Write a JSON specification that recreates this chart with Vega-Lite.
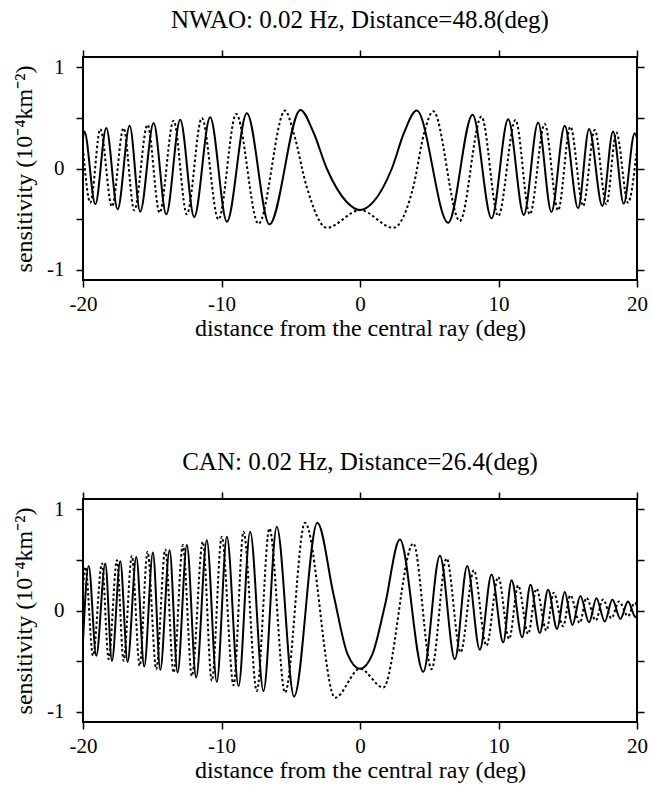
{
  "$schema": "https://vega.github.io/schema/vega-lite/v6.json",
  "padding": {"left": 11, "top": 7, "right": 5, "bottom": 5},
  "background": "white",
  "spacing": 108,
  "config": {
    "view": {"stroke": "black", "strokeWidth": 2},
    "font": "Liberation Serif",
    "axis": {
      "domain": false, "grid": false, "tickColor": "black", "tickWidth": 1.5, "tickSize": 7,
      "labelFont": "Liberation Serif", "labelFontSize": 21, "labelColor": "black",
      "titleFont": "Liberation Serif", "titleFontSize": 24, "titleFontWeight": "normal", "titleColor": "black"
    },
    "title": {"font": "Liberation Serif", "fontSize": 25, "fontWeight": "normal", "color": "black", "anchor": "middle", "frame": "group", "offset": 16}
  },
  "datasets": {
    "curves": [
      {"panel": "NWAO", "series": "solid", "d": -20, "v": 0.30},
      {"panel": "NWAO", "series": "solid", "d": -19.9, "v": 0.366},
      {"panel": "NWAO", "series": "solid", "d": -19.11, "v": -0.353},
      {"panel": "NWAO", "series": "solid", "d": -18.32, "v": 0.399},
      {"panel": "NWAO", "series": "solid", "d": -17.5, "v": -0.403},
      {"panel": "NWAO", "series": "solid", "d": -16.63, "v": 0.422},
      {"panel": "NWAO", "series": "solid", "d": -15.87, "v": -0.426},
      {"panel": "NWAO", "series": "solid", "d": -14.9, "v": 0.449},
      {"panel": "NWAO", "series": "solid", "d": -13.99, "v": -0.452},
      {"panel": "NWAO", "series": "solid", "d": -12.98, "v": 0.482},
      {"panel": "NWAO", "series": "solid", "d": -11.97, "v": -0.479},
      {"panel": "NWAO", "series": "solid", "d": -10.82, "v": 0.505},
      {"panel": "NWAO", "series": "solid", "d": -9.61, "v": -0.525},
      {"panel": "NWAO", "series": "solid", "d": -8.17, "v": 0.545},
      {"panel": "NWAO", "series": "solid", "d": -6.54, "v": -0.551},
      {"panel": "NWAO", "series": "solid", "d": -4.3, "v": 0.578},
      {"panel": "NWAO", "series": "solid", "d": -3.37, "v": 0.36},
      {"panel": "NWAO", "series": "solid", "d": -2.4, "v": 0.0},
      {"panel": "NWAO", "series": "solid", "d": -0.96, "v": -0.33},
      {"panel": "NWAO", "series": "solid", "d": 0, "v": -0.41},
      {"panel": "NWAO", "series": "solid", "d": 0.96, "v": -0.33},
      {"panel": "NWAO", "series": "solid", "d": 2.3, "v": 0.0},
      {"panel": "NWAO", "series": "solid", "d": 3.2, "v": 0.36},
      {"panel": "NWAO", "series": "solid", "d": 4.09, "v": 0.571},
      {"panel": "NWAO", "series": "solid", "d": 6.37, "v": -0.535},
      {"panel": "NWAO", "series": "solid", "d": 8.13, "v": 0.531},
      {"panel": "NWAO", "series": "solid", "d": 9.5, "v": -0.492},
      {"panel": "NWAO", "series": "solid", "d": 10.7, "v": 0.485},
      {"panel": "NWAO", "series": "solid", "d": 11.83, "v": -0.459},
      {"panel": "NWAO", "series": "solid", "d": 12.86, "v": 0.455},
      {"panel": "NWAO", "series": "solid", "d": 13.82, "v": -0.429},
      {"panel": "NWAO", "series": "solid", "d": 14.78, "v": 0.422},
      {"panel": "NWAO", "series": "solid", "d": 15.75, "v": -0.393},
      {"panel": "NWAO", "series": "solid", "d": 16.54, "v": 0.389},
      {"panel": "NWAO", "series": "solid", "d": 17.5, "v": -0.37},
      {"panel": "NWAO", "series": "solid", "d": 18.27, "v": 0.366},
      {"panel": "NWAO", "series": "solid", "d": 19.04, "v": -0.347},
      {"panel": "NWAO", "series": "solid", "d": 19.83, "v": 0.347},
      {"panel": "NWAO", "series": "solid", "d": 20, "v": 0.3},

      {"panel": "NWAO", "series": "dotted", "d": -20, "v": 0.2},
      {"panel": "NWAO", "series": "dotted", "d": -19.47, "v": -0.337},
      {"panel": "NWAO", "series": "dotted", "d": -18.75, "v": 0.389},
      {"panel": "NWAO", "series": "dotted", "d": -17.91, "v": -0.376},
      {"panel": "NWAO", "series": "dotted", "d": -17.07, "v": 0.399},
      {"panel": "NWAO", "series": "dotted", "d": -16.3, "v": -0.413},
      {"panel": "NWAO", "series": "dotted", "d": -15.34, "v": 0.432},
      {"panel": "NWAO", "series": "dotted", "d": -14.47, "v": -0.436},
      {"panel": "NWAO", "series": "dotted", "d": -13.46, "v": 0.472},
      {"panel": "NWAO", "series": "dotted", "d": -12.5, "v": -0.452},
      {"panel": "NWAO", "series": "dotted", "d": -11.42, "v": 0.498},
      {"panel": "NWAO", "series": "dotted", "d": -10.22, "v": -0.502},
      {"panel": "NWAO", "series": "dotted", "d": -8.94, "v": 0.538},
      {"panel": "NWAO", "series": "dotted", "d": -7.33, "v": -0.545},
      {"panel": "NWAO", "series": "dotted", "d": -5.41, "v": 0.571},
      {"panel": "NWAO", "series": "dotted", "d": -4.81, "v": 0.36},
      {"panel": "NWAO", "series": "dotted", "d": -3.85, "v": -0.18},
      {"panel": "NWAO", "series": "dotted", "d": -2.4, "v": -0.585},
      {"panel": "NWAO", "series": "dotted", "d": 0, "v": -0.41},
      {"panel": "NWAO", "series": "dotted", "d": 2.4, "v": -0.585},
      {"panel": "NWAO", "series": "dotted", "d": 3.85, "v": -0.18},
      {"panel": "NWAO", "series": "dotted", "d": 4.65, "v": 0.36},
      {"panel": "NWAO", "series": "dotted", "d": 5.29, "v": 0.564},
      {"panel": "NWAO", "series": "dotted", "d": 7.21, "v": -0.518},
      {"panel": "NWAO", "series": "dotted", "d": 8.77, "v": 0.512},
      {"panel": "NWAO", "series": "dotted", "d": 9.98, "v": -0.469},
      {"panel": "NWAO", "series": "dotted", "d": 11.23, "v": 0.479},
      {"panel": "NWAO", "series": "dotted", "d": 12.26, "v": -0.452},
      {"panel": "NWAO", "series": "dotted", "d": 13.34, "v": 0.439},
      {"panel": "NWAO", "series": "dotted", "d": 14.3, "v": -0.413},
      {"panel": "NWAO", "series": "dotted", "d": 15.19, "v": 0.413},
      {"panel": "NWAO", "series": "dotted", "d": 16.11, "v": -0.37},
      {"panel": "NWAO", "series": "dotted", "d": 16.95, "v": 0.38},
      {"panel": "NWAO", "series": "dotted", "d": 17.79, "v": -0.353},
      {"panel": "NWAO", "series": "dotted", "d": 18.51, "v": 0.356},
      {"panel": "NWAO", "series": "dotted", "d": 19.35, "v": -0.337},
      {"panel": "NWAO", "series": "dotted", "d": 20, "v": 0.2},

      {"panel": "CAN", "series": "solid", "d": -20, "v": -0.3},
      {"panel": "CAN", "series": "solid", "d": -19.59, "v": 0.44},
      {"panel": "CAN", "series": "solid", "d": -19.04, "v": -0.446},
      {"panel": "CAN", "series": "solid", "d": -18.39, "v": 0.463},
      {"panel": "CAN", "series": "solid", "d": -17.91, "v": -0.496},
      {"panel": "CAN", "series": "solid", "d": -17.31, "v": 0.486},
      {"panel": "CAN", "series": "solid", "d": -16.78, "v": -0.506},
      {"panel": "CAN", "series": "solid", "d": -16.15, "v": 0.529},
      {"panel": "CAN", "series": "solid", "d": -15.58, "v": -0.552},
      {"panel": "CAN", "series": "solid", "d": -14.95, "v": 0.572},
      {"panel": "CAN", "series": "solid", "d": -14.42, "v": -0.585},
      {"panel": "CAN", "series": "solid", "d": -13.75, "v": 0.595},
      {"panel": "CAN", "series": "solid", "d": -13.17, "v": -0.612},
      {"panel": "CAN", "series": "solid", "d": -12.5, "v": 0.645},
      {"panel": "CAN", "series": "solid", "d": -11.83, "v": -0.661},
      {"panel": "CAN", "series": "solid", "d": -11.06, "v": 0.694},
      {"panel": "CAN", "series": "solid", "d": -10.34, "v": -0.704},
      {"panel": "CAN", "series": "solid", "d": -9.61, "v": 0.727},
      {"panel": "CAN", "series": "solid", "d": -8.77, "v": -0.744},
      {"panel": "CAN", "series": "solid", "d": -7.93, "v": 0.777},
      {"panel": "CAN", "series": "solid", "d": -6.97, "v": -0.794},
      {"panel": "CAN", "series": "solid", "d": -6.01, "v": 0.827},
      {"panel": "CAN", "series": "solid", "d": -4.76, "v": -0.85},
      {"panel": "CAN", "series": "solid", "d": -3.08, "v": 0.866},
      {"panel": "CAN", "series": "solid", "d": -1.9, "v": 0.15},
      {"panel": "CAN", "series": "solid", "d": -0.9, "v": -0.43},
      {"panel": "CAN", "series": "solid", "d": 0, "v": -0.575},
      {"panel": "CAN", "series": "solid", "d": 0.9, "v": -0.43},
      {"panel": "CAN", "series": "solid", "d": 1.8, "v": 0.05},
      {"panel": "CAN", "series": "solid", "d": 2.88, "v": 0.7},
      {"panel": "CAN", "series": "solid", "d": 4.57, "v": -0.605},
      {"panel": "CAN", "series": "solid", "d": 5.77, "v": 0.539},
      {"panel": "CAN", "series": "solid", "d": 6.85, "v": -0.48},
      {"panel": "CAN", "series": "solid", "d": 7.74, "v": 0.44},
      {"panel": "CAN", "series": "solid", "d": 8.65, "v": -0.387},
      {"panel": "CAN", "series": "solid", "d": 9.5, "v": 0.354},
      {"panel": "CAN", "series": "solid", "d": 10.34, "v": -0.314},
      {"panel": "CAN", "series": "solid", "d": 10.94, "v": 0.298},
      {"panel": "CAN", "series": "solid", "d": 11.71, "v": -0.265},
      {"panel": "CAN", "series": "solid", "d": 12.31, "v": 0.255},
      {"panel": "CAN", "series": "solid", "d": 12.98, "v": -0.222},
      {"panel": "CAN", "series": "solid", "d": 13.58, "v": 0.205},
      {"panel": "CAN", "series": "solid", "d": 14.23, "v": -0.182},
      {"panel": "CAN", "series": "solid", "d": 14.78, "v": 0.182},
      {"panel": "CAN", "series": "solid", "d": 15.34, "v": -0.142},
      {"panel": "CAN", "series": "solid", "d": 15.91, "v": 0.142},
      {"panel": "CAN", "series": "solid", "d": 16.54, "v": -0.116},
      {"panel": "CAN", "series": "solid", "d": 17.07, "v": 0.122},
      {"panel": "CAN", "series": "solid", "d": 17.67, "v": -0.109},
      {"panel": "CAN", "series": "solid", "d": 18.22, "v": 0.109},
      {"panel": "CAN", "series": "solid", "d": 18.8, "v": -0.083},
      {"panel": "CAN", "series": "solid", "d": 19.35, "v": 0.089},
      {"panel": "CAN", "series": "solid", "d": 19.9, "v": -0.066},
      {"panel": "CAN", "series": "solid", "d": 20, "v": -0.05},

      {"panel": "CAN", "series": "dotted", "d": -20, "v": 0.2},
      {"panel": "CAN", "series": "dotted", "d": -19.83, "v": 0.43},
      {"panel": "CAN", "series": "dotted", "d": -19.28, "v": -0.446},
      {"panel": "CAN", "series": "dotted", "d": -18.63, "v": 0.463},
      {"panel": "CAN", "series": "dotted", "d": -18.15, "v": -0.48},
      {"panel": "CAN", "series": "dotted", "d": -17.55, "v": 0.496},
      {"panel": "CAN", "series": "dotted", "d": -17.07, "v": -0.496},
      {"panel": "CAN", "series": "dotted", "d": -16.47, "v": 0.539},
      {"panel": "CAN", "series": "dotted", "d": -15.91, "v": -0.546},
      {"panel": "CAN", "series": "dotted", "d": -15.34, "v": 0.579},
      {"panel": "CAN", "series": "dotted", "d": -14.71, "v": -0.579},
      {"panel": "CAN", "series": "dotted", "d": -14.06, "v": 0.602},
      {"panel": "CAN", "series": "dotted", "d": -13.46, "v": -0.612},
      {"panel": "CAN", "series": "dotted", "d": -12.79, "v": 0.645},
      {"panel": "CAN", "series": "dotted", "d": -12.14, "v": -0.645},
      {"panel": "CAN", "series": "dotted", "d": -11.35, "v": 0.678},
      {"panel": "CAN", "series": "dotted", "d": -10.7, "v": -0.694},
      {"panel": "CAN", "series": "dotted", "d": -9.98, "v": 0.727},
      {"panel": "CAN", "series": "dotted", "d": -9.13, "v": -0.737},
      {"panel": "CAN", "series": "dotted", "d": -8.41, "v": 0.777},
      {"panel": "CAN", "series": "dotted", "d": -7.45, "v": -0.794},
      {"panel": "CAN", "series": "dotted", "d": -6.54, "v": 0.81},
      {"panel": "CAN", "series": "dotted", "d": -5.41, "v": -0.81},
      {"panel": "CAN", "series": "dotted", "d": -3.97, "v": 0.866},
      {"panel": "CAN", "series": "dotted", "d": -1.8, "v": -0.86},
      {"panel": "CAN", "series": "dotted", "d": 0, "v": -0.575},
      {"panel": "CAN", "series": "dotted", "d": 1.68, "v": -0.76},
      {"panel": "CAN", "series": "dotted", "d": 3.85, "v": 0.661},
      {"panel": "CAN", "series": "dotted", "d": 5.17, "v": -0.579},
      {"panel": "CAN", "series": "dotted", "d": 6.25, "v": 0.513},
      {"panel": "CAN", "series": "dotted", "d": 7.26, "v": -0.413},
      {"panel": "CAN", "series": "dotted", "d": 8.22, "v": 0.397},
      {"panel": "CAN", "series": "dotted", "d": 9.13, "v": -0.347},
      {"panel": "CAN", "series": "dotted", "d": 9.98, "v": 0.331},
      {"panel": "CAN", "series": "dotted", "d": 10.77, "v": -0.281},
      {"panel": "CAN", "series": "dotted", "d": 11.42, "v": 0.248},
      {"panel": "CAN", "series": "dotted", "d": 12.14, "v": -0.231},
      {"panel": "CAN", "series": "dotted", "d": 12.74, "v": 0.215},
      {"panel": "CAN", "series": "dotted", "d": 13.46, "v": -0.198},
      {"panel": "CAN", "series": "dotted", "d": 13.99, "v": 0.175},
      {"panel": "CAN", "series": "dotted", "d": 14.66, "v": -0.155},
      {"panel": "CAN", "series": "dotted", "d": 15.19, "v": 0.149},
      {"panel": "CAN", "series": "dotted", "d": 15.87, "v": -0.122},
      {"panel": "CAN", "series": "dotted", "d": 16.35, "v": 0.126},
      {"panel": "CAN", "series": "dotted", "d": 17.02, "v": -0.099},
      {"panel": "CAN", "series": "dotted", "d": 17.55, "v": 0.109},
      {"panel": "CAN", "series": "dotted", "d": 18.15, "v": -0.076},
      {"panel": "CAN", "series": "dotted", "d": 18.7, "v": 0.089},
      {"panel": "CAN", "series": "dotted", "d": 19.35, "v": -0.056},
      {"panel": "CAN", "series": "dotted", "d": 19.83, "v": 0.076},
      {"panel": "CAN", "series": "dotted", "d": 20, "v": 0.05}
    ]
  },
  "vconcat": [
    {
      "title": {"text": "NWAO: 0.02 Hz, Distance=48.8(deg)"},
      "width": 554, "height": 223,
      "data": {"name": "curves"},
      "transform": [{"filter": "datum.panel == 'NWAO'"}],
      "layer": [
        {
          "transform": [{"filter": "datum.series == 'solid'"}],
          "mark": {"type": "line", "color": "black", "strokeWidth": 2, "interpolate": "monotone", "clip": true},
          "encoding": {
            "x": {"field": "d", "type": "quantitative", "scale": {"domain": [-20, 20], "nice": false, "zero": false},
              "axis": {"orient": "bottom", "values": [-20, -10, 0, 10, 20], "labelExpr": "'' + datum.value", "labelFlush": false, "labelPadding": 6, "labelFont": "Liberation Serif", "title": "distance from the central ray (deg)", "titleFont": "Liberation Serif", "titlePadding": 2}},
            "y": {"field": "v", "type": "quantitative", "scale": {"domain": [-1.1, 1.1], "nice": false, "zero": false},
              "axis": {"orient": "left", "values": [-1, -0.5, 0, 0.5, 1], "labelExpr": "datum.value == 1 ? '1' : datum.value == 0 ? '0' : datum.value == -1 ? '-1' : ''", "labelPadding": 12, "labelFont": "Liberation Serif", "title": "sensitivity (10⁻⁴km⁻²)", "titleFont": "Liberation Serif", "titlePadding": 10}}
          }
        },
        {
          "transform": [{"filter": "datum.series == 'dotted'"}],
          "mark": {"type": "line", "color": "black", "strokeWidth": 2, "strokeDash": [2.5, 2.5], "interpolate": "monotone", "clip": true},
          "encoding": {
            "x": {"field": "d", "type": "quantitative", "axis": {"orient": "top", "values": [-20, -10, 0, 10, 20], "labels": false, "title": null}},
            "y": {"field": "v", "type": "quantitative", "axis": {"orient": "right", "values": [-1, -0.5, 0, 0.5, 1], "labels": false, "title": null}}
          }
        }
      ],
      "resolve": {"axis": {"x": "independent", "y": "independent"}}
    },
    {
      "title": {"text": "CAN: 0.02 Hz, Distance=26.4(deg)"},
      "width": 554, "height": 223,
      "data": {"name": "curves"},
      "transform": [{"filter": "datum.panel == 'CAN'"}],
      "layer": [
        {
          "transform": [{"filter": "datum.series == 'solid'"}],
          "mark": {"type": "line", "color": "black", "strokeWidth": 2, "interpolate": "monotone", "clip": true},
          "encoding": {
            "x": {"field": "d", "type": "quantitative", "scale": {"domain": [-20, 20], "nice": false, "zero": false},
              "axis": {"orient": "bottom", "values": [-20, -10, 0, 10, 20], "labelExpr": "'' + datum.value", "labelFlush": false, "labelPadding": 6, "labelFont": "Liberation Serif", "title": "distance from the central ray (deg)", "titleFont": "Liberation Serif", "titlePadding": 2}},
            "y": {"field": "v", "type": "quantitative", "scale": {"domain": [-1.1, 1.1], "nice": false, "zero": false},
              "axis": {"orient": "left", "values": [-1, -0.5, 0, 0.5, 1], "labelExpr": "datum.value == 1 ? '1' : datum.value == 0 ? '0' : datum.value == -1 ? '-1' : ''", "labelPadding": 12, "labelFont": "Liberation Serif", "title": "sensitivity (10⁻⁴km⁻²)", "titleFont": "Liberation Serif", "titlePadding": 10}}
          }
        },
        {
          "transform": [{"filter": "datum.series == 'dotted'"}],
          "mark": {"type": "line", "color": "black", "strokeWidth": 2, "strokeDash": [2.5, 2.5], "interpolate": "monotone", "clip": true},
          "encoding": {
            "x": {"field": "d", "type": "quantitative", "axis": {"orient": "top", "values": [-20, -10, 0, 10, 20], "labels": false, "title": null}},
            "y": {"field": "v", "type": "quantitative", "axis": {"orient": "right", "values": [-1, -0.5, 0, 0.5, 1], "labels": false, "title": null}}
          }
        }
      ],
      "resolve": {"axis": {"x": "independent", "y": "independent"}}
    }
  ]
}
